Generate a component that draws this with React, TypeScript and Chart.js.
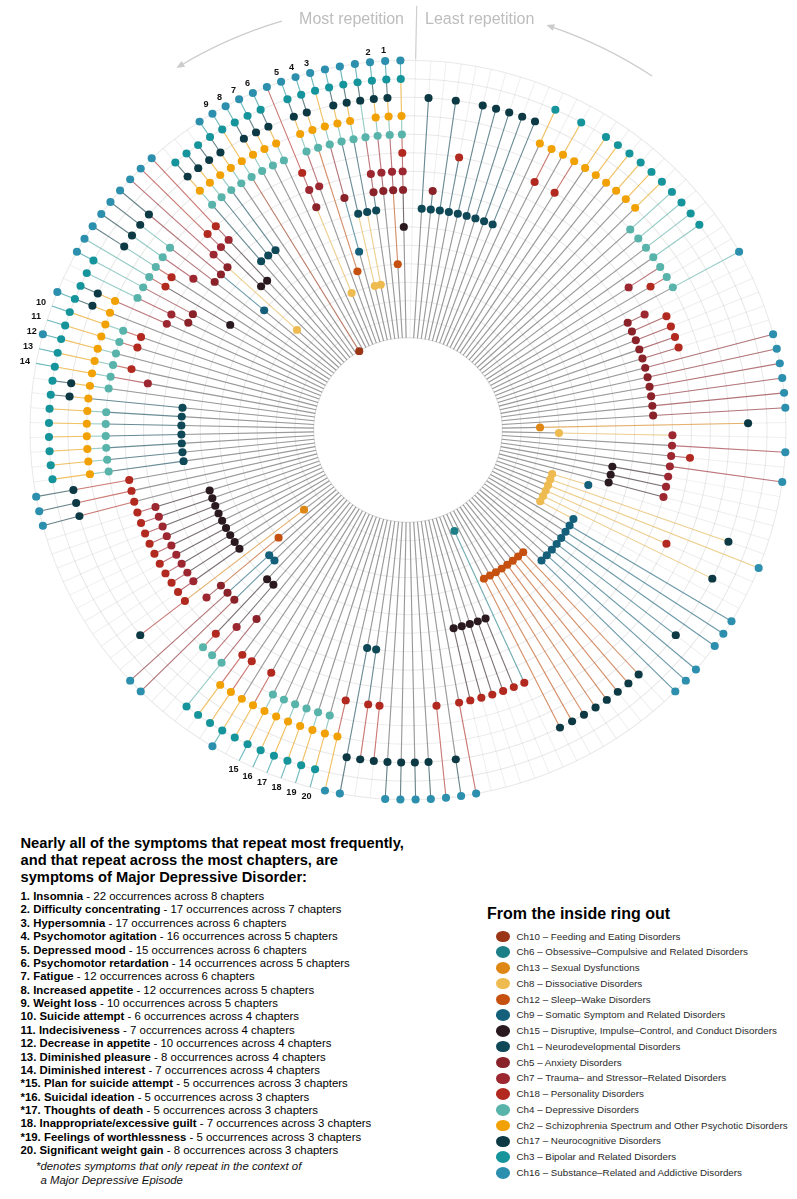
import React, { useEffect, useRef } from 'react';
import { Chart, registerables } from 'chart.js';

Chart.register(...registerables);

// ---------------- data ----------------
// Chapters, from the inside ring out
const chapterNames = [
  'Ch10 – Feeding and Eating Disorders',
  'Ch6 – Obsessive–Compulsive and Related Disorders',
  'Ch13 – Sexual Dysfunctions',
  'Ch8 – Dissociative Disorders',
  'Ch12 – Sleep–Wake Disorders',
  'Ch9 – Somatic Symptom and Related Disorders',
  'Ch15 – Disruptive, Impulse–Control, and Conduct Disorders',
  'Ch1 – Neurodevelopmental Disorders',
  'Ch5 – Anxiety Disorders',
  'Ch7 – Trauma– and Stressor–Related Disorders',
  'Ch18 – Personality Disorders',
  'Ch4 – Depressive Disorders',
  'Ch2 – Schizophrenia Spectrum and Other Psychotic Disorders',
  'Ch17 – Neurocognitive Disorders',
  'Ch3 – Bipolar and Related Disorders',
  'Ch16 – Substance–Related and Addictive Disorders',
];

const chapterColors = [
  '#9a3516', '#1c7e87', '#df8714', '#eebb50', '#c5500f', '#14607a', '#2a1a1f', '#0f4856',
  '#8a2329', '#9c2730', '#b2291f', '#58b4aa', '#f1a103', '#0c3943', '#15959b', '#2b8fad',
];

// spoke (symptom) slots, clockwise from the top, at which each chapter lists the symptom
const ch10Slots = [142];
const ch6Slots = [67];
const ch13Slots = [38, 100];
const ch8Slots = [39, 46, 47, 48, 49, 50, 51, 135, 146, 150, 151];
const ch12Slots = [59, 60, 61, 62, 63, 64, 65, 66, 99, 148, 154];
const ch9Slots = [46, 51, 52, 53, 54, 55, 56, 57, 58, 97, 98, 134, 149];
const ch15Slots = [43, 44, 45, 68, 69, 70, 71, 72, 95, 96, 101, 102, 103, 104, 105, 106, 107, 108, 109, 130, 136, 137, 155];
const ch1Slots = [1, 2, 3, 4, 5, 6, 7, 8, 9, 81, 82, 113, 114, 115, 116, 117, 118, 119, 138, 139, 140, 150, 151, 152];
const ch5Slots = [2, 27, 28, 29, 30, 31, 32, 33, 34, 35, 36, 37, 94, 97, 98, 99, 128, 129, 133, 134, 135, 146, 149, 152, 153, 154, 155];
const ch7Slots = [24, 27, 39, 40, 41, 42, 43, 44, 45, 95, 99, 101, 102, 103, 104, 105, 106, 107, 108, 109, 121, 127, 128, 132, 135, 136, 137, 146, 147, 152, 153, 154, 155];
const ch18Slots = [4, 11, 13, 25, 28, 29, 30, 31, 41, 49, 67, 68, 69, 70, 71, 72, 73, 75, 80, 81, 83, 90, 92, 93, 96, 100, 101, 102, 103, 104, 105, 106, 107, 108, 109, 110, 111, 112, 122, 124, 125, 130, 131, 136, 137, 146, 155];
const ch4Slots = [20, 21, 22, 23, 24, 25, 26, 84, 85, 86, 87, 88, 89, 94, 95, 96, 113, 114, 115, 116, 117, 118, 120, 121, 122, 123, 124, 125, 128, 129, 130, 131, 132, 133, 138, 139, 140, 141, 142, 143, 144, 145, 147, 148, 149, 150, 151, 152, 153, 154, 155];
const ch2Slots = [10, 11, 12, 13, 14, 15, 16, 17, 18, 19, 83, 84, 85, 86, 87, 88, 89, 90, 91, 92, 93, 113, 114, 115, 116, 117, 118, 119, 120, 121, 122, 123, 124, 125, 126, 127, 138, 139, 140, 141, 142, 143, 144, 145, 147, 148, 149, 150, 151, 153, 154, 155];
const ch17Slots = [1, 3, 5, 6, 7, 8, 9, 38, 47, 50, 55, 59, 60, 61, 62, 63, 64, 65, 66, 74, 76, 77, 78, 79, 80, 81, 82, 100, 110, 111, 112, 119, 120, 126, 127, 131, 132, 133, 134, 138, 139, 140, 141, 143, 144, 145, 147, 148, 150, 151, 152, 153, 154];
const ch3Slots = [10, 12, 14, 15, 16, 17, 18, 19, 20, 21, 22, 23, 84, 85, 86, 87, 88, 89, 90, 91, 92, 93, 94, 113, 114, 115, 116, 117, 118, 119, 120, 121, 122, 123, 124, 125, 126, 127, 128, 129, 138, 139, 140, 141, 142, 143, 144, 145, 147, 148, 149, 150, 151, 152, 153, 154, 155];
const ch16Slots = [26, 32, 33, 34, 35, 36, 37, 40, 42, 48, 52, 53, 54, 56, 57, 58, 73, 74, 75, 76, 77, 78, 79, 82, 83, 91, 97, 98, 110, 111, 112, 123, 126, 129, 130, 131, 132, 133, 134, 135, 136, 137, 141, 142, 143, 144, 145, 146, 147, 148, 149, 150, 151, 152, 153, 154, 155];

// numbered (most repeated) symptoms and the spoke each sits on
const rankLabels = ['1', '2', '3', '4', '5', '6', '7', '8', '9', '10', '11', '12', '13', '14', '15', '16', '17', '18', '19', '20'];
const rankSlots = [154, 153, 149, 148, 147, 145, 144, 143, 142, 125, 124, 123, 122, 121, 89, 88, 87, 86, 85, 84];

const symptomNames = [
  'Insomnia', 'Difficulty concentrating', 'Hypersomnia', 'Psychomotor agitation', 'Depressed mood',
  'Psychomotor retardation', 'Fatigue', 'Increased appetite', 'Weight loss', 'Suicide attempt',
  'Indecisiveness', 'Decrease in appetite', 'Diminished pleasure', 'Diminished interest',
  'Plan for suicide attempt', 'Suicidal ideation', 'Thoughts of death', 'Inappropriate/excessive guilt',
  'Feelings of worthlessness', 'Significant weight gain',
];
const symptomOccurrences = [22, 17, 17, 16, 15, 14, 12, 12, 10, 6, 7, 10, 8, 7, 5, 5, 5, 7, 5, 8];
const symptomChapterCounts = [8, 7, 6, 5, 6, 5, 6, 5, 5, 4, 4, 4, 4, 4, 3, 3, 3, 3, 3, 3];
const episodeOnlyRanks = [15, 16, 17, 19];

// ---------------- layout constants ----------------
const SLOT_COUNT = 156;
const RING_MIN = -3.982;
const RING_MAX = 16;
const LABEL_RING = 16.55;
const ARROW_RING = 19.1;
const STRETCH_X = 1.0134;
const STRETCH_Y = 0.991;
const FONT = '"Liberation Sans", Arial, Helvetica, sans-serif';

const ringSlotLists = [
  ch10Slots, ch6Slots, ch13Slots, ch8Slots, ch12Slots, ch9Slots, ch15Slots, ch1Slots,
  ch5Slots, ch7Slots, ch18Slots, ch4Slots, ch2Slots, ch17Slots, ch3Slots, ch16Slots,
];

function hexToRgba(hex: string, a: number) {
  const n = parseInt(hex.slice(1), 16);
  return `rgba(${(n >> 16) & 255},${(n >> 8) & 255},${n & 255},${a})`;
}

export default function App() {
  const canvasRef = useRef<HTMLCanvasElement>(null);

  useEffect(() => {
    const slotLabels = Array.from({ length: SLOT_COUNT }, (_, i) => String(i));
    const spokeRings: number[][] = Array.from({ length: SLOT_COUNT }, () => []);
    ringSlotLists.forEach((slots, k) => slots.forEach((s) => spokeRings[s].push(k + 1)));
    spokeRings.forEach((r) => r.sort((a, b) => a - b));
    const labelled = new Map<number, string>(rankSlots.map((s, i) => [s, rankLabels[i]]));

    const datasets = ringSlotLists.map((slots, k) => {
      const data: (number | null)[] = new Array(SLOT_COUNT).fill(null);
      slots.forEach((s) => { data[s] = k + 1; });
      return {
        label: chapterNames[k],
        data,
        showLine: false,
        pointRadius: 4,
        pointHoverRadius: 4,
        pointBorderWidth: 0,
        pointBackgroundColor: chapterColors[k],
        pointBorderColor: chapterColors[k],
        borderColor: 'rgba(0,0,0,0)',
        backgroundColor: 'rgba(0,0,0,0)',
        clip: false,
      };
    });

    const spokePlugin = {
      id: 'spokes',
      beforeDraw(chart: any) {
        const scale = chart.scales.r;
        const ctx = chart.ctx as CanvasRenderingContext2D;
        ctx.save();
        ctx.translate(scale.xCenter, scale.yCenter);
        ctx.scale(STRETCH_X, STRETCH_Y);
        ctx.translate(-scale.xCenter, -scale.yCenter);
      },
      afterDraw(chart: any) {
        chart.ctx.restore();
      },
      beforeDatasetsDraw(chart: any) {
        const scale = chart.scales.r;
        const ctx = chart.ctx as CanvasRenderingContext2D;
        const cx = scale.xCenter, cy = scale.yCenter;
        const hole = scale.getDistanceFromCenterForValue(1);
        ctx.save();
        ctx.fillStyle = '#ffffff';
        ctx.beginPath(); ctx.arc(cx, cy, hole, 0, Math.PI * 2); ctx.fill();
        ctx.strokeStyle = 'rgba(0,0,0,0.11)'; ctx.lineWidth = 1;
        ctx.beginPath(); ctx.arc(cx, cy, hole, 0, Math.PI * 2); ctx.stroke();
        const seg = (slot: number, v0: number, v1: number, color: string) => {
          const a = scale.getPointPositionForValue(slot, v0);
          const b = scale.getPointPositionForValue(slot, v1);
          ctx.strokeStyle = color; ctx.lineWidth = 1.1;
          ctx.beginPath(); ctx.moveTo(a.x, a.y); ctx.lineTo(b.x, b.y); ctx.stroke();
        };
        spokeRings.forEach((rings, slot) => {
          if (!rings.length) return;
          let prev = 1;
          let color = 'rgba(115,115,115,0.7)';
          rings.forEach((k) => {
            if (k > prev) seg(slot, prev, k, color);
            prev = k;
            color = hexToRgba(chapterColors[k - 1], 0.6);
          });
          if (labelled.has(slot) && prev < RING_MAX) seg(slot, prev, RING_MAX, color);
        });
        ctx.restore();
      },
      afterDatasetsDraw(chart: any) {
        const scale = chart.scales.r;
        const ctx = chart.ctx as CanvasRenderingContext2D;
        const cx = scale.xCenter, cy = scale.yCenter;
        ctx.save();
        // rank numbers
        ctx.fillStyle = '#111';
        ctx.font = `bold 9px ${FONT}`;
        ctx.textAlign = 'center';
        ctx.textBaseline = 'middle';
        labelled.forEach((txt, slot) => {
          const p = scale.getPointPositionForValue(slot, LABEL_RING);
          ctx.fillText(txt, p.x - 1, p.y);
        });
        // divider between "most" and "least"
        const d0 = scale.getPointPositionForValue(0, 16.05);
        const d1 = scale.getPointPositionForValue(0, 18.95);
        ctx.strokeStyle = '#cfcfcf'; ctx.lineWidth = 1.2;
        ctx.beginPath(); ctx.moveTo(d0.x, d0.y); ctx.lineTo(d1.x, d1.y); ctx.stroke();
        // arrows
        const r = scale.getDistanceFromCenterForValue(ARROW_RING);
        const drawArrow = (fromDeg: number, toDeg: number) => {
          const a0 = ((fromDeg - 90) * Math.PI) / 180;
          const a1 = ((toDeg - 90) * Math.PI) / 180;
          const ccw = a1 < a0;
          ctx.strokeStyle = '#cccccc'; ctx.lineWidth = 1.3;
          ctx.beginPath(); ctx.arc(cx, cy, r, a0, a1, ccw); ctx.stroke();
          const px = cx + r * Math.cos(a1), py = cy + r * Math.sin(a1);
          const dir = ccw ? -1 : 1;
          const tx = -Math.sin(a1) * dir, ty = Math.cos(a1) * dir;
          const nx = Math.cos(a1), ny = Math.sin(a1);
          ctx.fillStyle = '#cccccc';
          ctx.beginPath();
          ctx.moveTo(px + tx * 4, py + ty * 4);
          ctx.lineTo(px - tx * 4 + nx * 3.5, py - ty * 4 + ny * 3.5);
          ctx.lineTo(px - tx * 4 - nx * 3.5, py - ty * 4 - ny * 3.5);
          ctx.closePath(); ctx.fill();
        };
        drawArrow(-16.8, -31.5);
        drawArrow(34, 19);
        ctx.restore();
      },
    };

    const chart = new Chart(canvasRef.current as HTMLCanvasElement, {
      type: 'radar',
      data: { labels: slotLabels, datasets: datasets as any },
      options: {
        responsive: false,
        animation: false,
        events: [],
        layout: { padding: { left: 35, top: 57, right: 16, bottom: 27 } },
        plugins: { legend: { display: false }, tooltip: { enabled: false } },
        scales: {
          r: {
            min: RING_MIN,
            max: RING_MAX,
            startAngle: 360 / SLOT_COUNT / 2,
            ticks: { display: false, stepSize: 1 },
            pointLabels: { display: false },
            grid: {
              circular: true,
              lineWidth: 1,
              color: (c: any) => {
                const v = c.tick ? c.tick.value : 0;
                return v >= 1 && v <= RING_MAX && Number.isInteger(v) ? 'rgba(0,0,0,0.09)' : 'rgba(0,0,0,0)';
              },
            },
            angleLines: { display: true, color: 'rgba(0,0,0,0.065)', lineWidth: 1 },
          },
        },
      } as any,
      plugins: [spokePlugin],
    });
    return () => chart.destroy();
  }, []);

  const abs = (o: React.CSSProperties): React.CSSProperties => ({ position: 'absolute', whiteSpace: 'nowrap', ...o });

  return (
    <div style={{ position: 'absolute', left: 0, top: 0, width: 797, height: 1199, overflow: 'hidden', background: '#fff', fontFamily: FONT, color: '#111' }}>
      <canvas ref={canvasRef} width={797} height={830} style={{ position: 'absolute', left: 0, top: 0, width: 797, height: 830 }} />
      <div style={abs({ right: 797 - 404, top: 10.5, fontSize: 16, lineHeight: '16px', color: '#bdbdbd' })}>Most repetition</div>
      <div style={abs({ left: 425, top: 10.5, fontSize: 16, lineHeight: '16px', color: '#bdbdbd' })}>Least repetition</div>

      <div style={abs({ left: 20.5, top: 834.7, fontSize: 14.7, lineHeight: '17px', fontWeight: 700, color: '#000' })}>
        <div>Nearly all of the symptoms that repeat most frequently,</div>
        <div>and that repeat across the most chapters, are</div>
        <div>symptoms of Major Depressive Disorder:</div>
      </div>

      <div style={abs({ left: 20.5, top: 890, fontSize: 11.4, lineHeight: '13.37px', color: '#000' })}>
        {symptomNames.map((name, i) => (
          <div key={name}>
            <b>{episodeOnlyRanks.includes(i + 1) ? '*' : ''}{i + 1}. {name}</b>
            {` - ${symptomOccurrences[i]} occurrences across ${symptomChapterCounts[i]} chapters`}
          </div>
        ))}
      </div>

      <div style={abs({ left: 36, top: 1160.3, fontSize: 11.4, lineHeight: '13.4px', fontStyle: 'italic', color: '#111' })}>
        <div>*denotes symptoms that only repeat in the context of</div>
        <div style={{ paddingLeft: 4.5 }}>a Major Depressive Episode</div>
      </div>

      <div style={abs({ left: 487, top: 905.2, fontSize: 16, lineHeight: '18px', fontWeight: 700, color: '#000' })}>From the inside ring out</div>
      <div style={abs({ left: 496, top: 928.5 })}>
        {chapterNames.map((name, i) => (
          <div key={name} style={{ display: 'flex', alignItems: 'center', height: 15.78 }}>
            <span style={{ display: 'inline-block', width: 14, height: 11.5, borderRadius: '50%', background: chapterColors[i], marginRight: 6.5 }} />
            <span style={{ fontSize: 9.8, lineHeight: '15.78px', color: '#2a2a2a' }}>{name}</span>
          </div>
        ))}
      </div>
    </div>
  );
}
